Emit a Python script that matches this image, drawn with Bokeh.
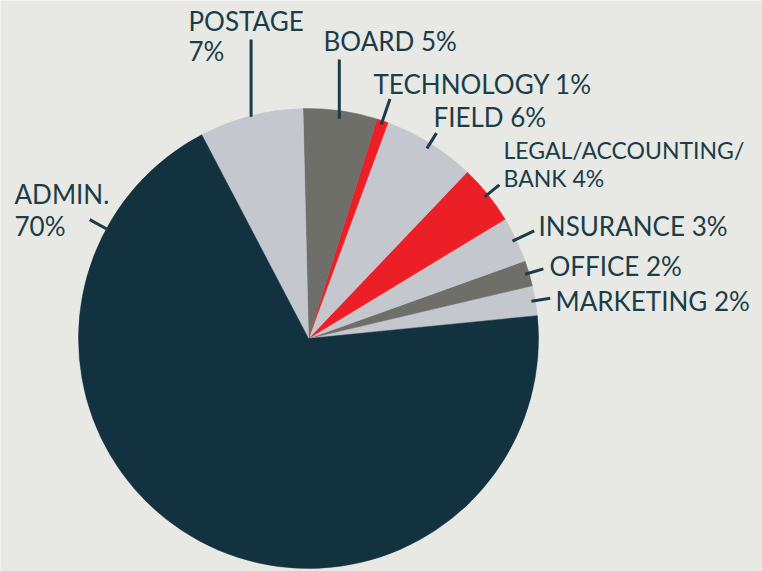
import numpy as np
from bokeh.plotting import figure
from bokeh.models import Range1d, ColumnDataSource
from bokeh.core.properties import value
from bokeh.embed import file_html
from bokeh.resources import INLINE

# ---- data, counter-clockwise from the right ----
categories = ["MARKETING", "OFFICE", "INSURANCE", "LEGAL/ACCOUNTING/BANK",
              "FIELD", "TECHNOLOGY", "BOARD", "POSTAGE", "ADMIN."]
shares = [2.1, 1.8, 3.2, 4.2, 6.5, 0.8, 5.2, 7.3, 68.9]
label_pct = ["2%", "2%", "3%", "4%", "6%", "1%", "5%", "7%", "70%"]

NAVY = "#12323f"
LGRAY = "#c4c7ce"
DGRAY = "#6e6f69"
RED = "#ec1f27"
BG = "#e8e9e4"
TXT = "#1a3d48"
slice_colors = [LGRAY, DGRAY, LGRAY, RED, LGRAY, RED, DGRAY, LGRAY, NAVY]

W, H = 762, 571
p = figure(width=W, height=H, output_backend="svg", toolbar_location=None,
           x_range=Range1d(0, W), y_range=Range1d(-H, 0),
           x_axis_type=None, y_axis_type=None, min_border=0,
           background_fill_color=BG, border_fill_color=BG,
           outline_line_color=None)
p.grid.visible = False

cx, cy, R = 308, -338, 230
start_deg = 5.7
vals = np.array(shares, dtype=float)
ang = vals / vals.sum() * 2 * np.pi
ends = np.radians(start_deg) + np.cumsum(ang)
starts = ends - ang
mids = (starts + ends) / 2

src = ColumnDataSource(dict(start=starts, end=ends, color=slice_colors))
p.wedge(x=cx, y=cy, radius=R, start_angle="start", end_angle="end",
        fill_color="color", line_color="color", line_width=0.5, source=src)

# ---- leader lines ----
lead_ang = mids.copy()
lead_ang[8] = np.radians(151.5)  # admin leader placed on upper left
r_in = [226, 226, 226, 226, 224, 226, 222, 229, 228]
r_out = [245, 245, 250, 245, 242, 253, None, None, 249]
vert_top = [None, None, None, None, None, None, -59, -39, None]
xs, ys = [], []
for i in range(len(categories)):
    x0 = cx + r_in[i] * np.cos(lead_ang[i])
    y0 = cy + r_in[i] * np.sin(lead_ang[i])
    if r_out[i] is not None:
        x1 = cx + r_out[i] * np.cos(lead_ang[i])
        y1 = cy + r_out[i] * np.sin(lead_ang[i])
    else:
        x1, y1 = x0, vert_top[i]
    xs.append([x0, x1])
    ys.append([y0, y1])
p.multi_line(xs, ys, line_color=TXT, line_width=3)

# ---- labels ----
DY = 10  # baseline correction
lines_text = ["POSTAGE", label_pct[7], "BOARD " + label_pct[6],
              "TECHNOLOGY " + label_pct[5], "FIELD " + label_pct[4],
              "INSURANCE " + label_pct[2], "OFFICE " + label_pct[1],
              "MARKETING " + label_pct[0], "ADMIN.", label_pct[8]]
lines_x = [188, 188, 323, 373, 433, 538, 549, 555, 14, 14]
lines_y = [-30, -60, -50, -93, -126, -235, -275, -310, -203, -235]
p.text(x=lines_x, y=[v + DY for v in lines_y], text=lines_text,
       text_font=value("Lato"), text_font_size="26px", text_color=TXT,
       text_baseline="alphabetic", text_align="left")

legal_text = ["LEGAL/ACCOUNTING/", "BANK " + label_pct[3]]
p.text(x=[503, 503], y=[-159 + DY, -187 + DY], text=legal_text,
       text_font=value("Lato"), text_font_size="23px", text_color=TXT,
       text_baseline="alphabetic", text_align="left")

open("out.html", "w").write(file_html(p, INLINE))
